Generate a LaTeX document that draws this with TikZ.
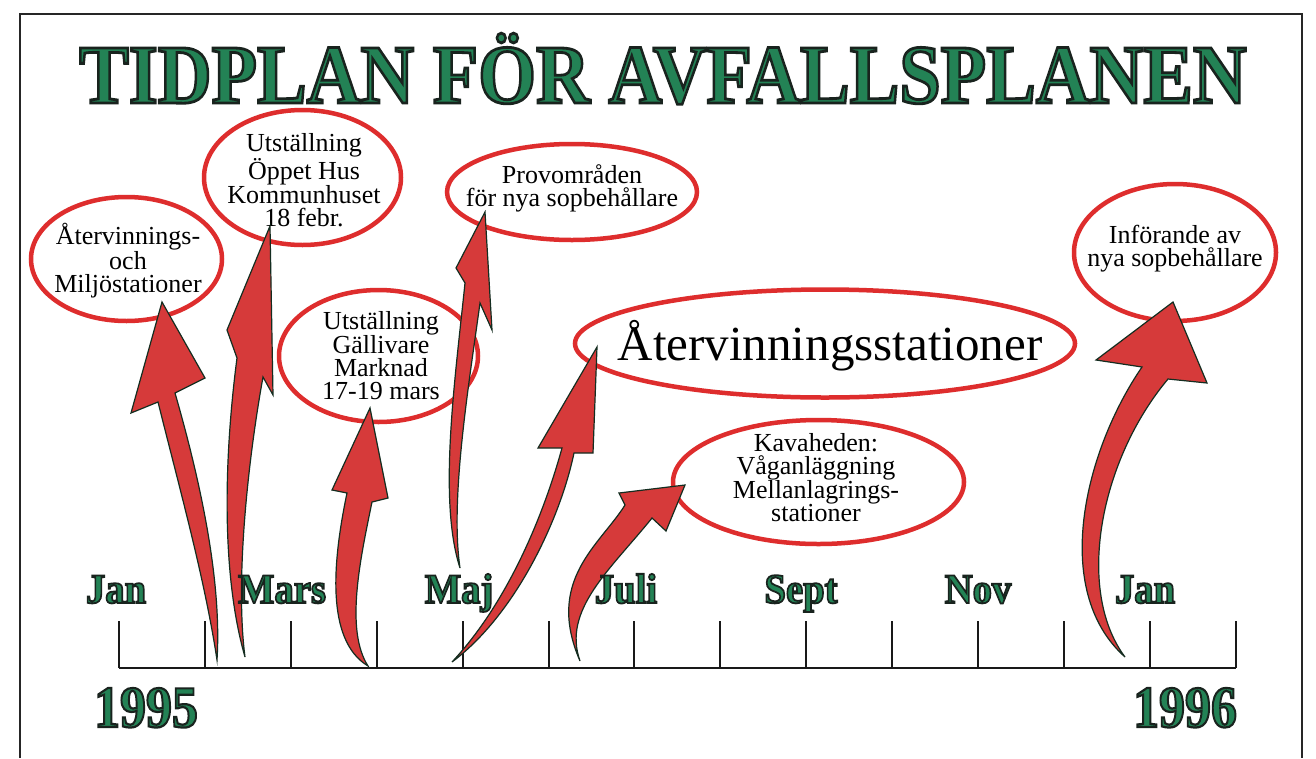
\documentclass[tikz,border=0pt]{standalone}
\usepackage{fontspec}
\setmainfont{Liberation Serif}
\usepackage{graphicx}
\usetikzlibrary{shapes.geometric}
\definecolor{tgreen}{RGB}{35,130,85}
\definecolor{tdark}{RGB}{25,35,30}
\definecolor{ered}{RGB}{222,45,45}
\definecolor{afill}{RGB}{214,58,58}
\definecolor{aline}{RGB}{20,45,32}
% green text with a dark outline (fill + stroke text render mode)
\newcommand{\grn}[3]{\scalebox{#1}[1]{{\color{tgreen}\special{pdf:literal direct 2 Tr #2 w 0.098 0.137 0.118 RG}#3\special{pdf:literal direct 0 Tr}}}}
\begin{document}
\begin{tikzpicture}[x=1pt,y=-1pt,
  bubble/.style={ellipse, draw=ered, line width=4.5pt, inner sep=0pt},
  btext/.style={align=center, inner sep=0pt, font=\fontsize{26}{23}\selectfont},
  arrowshape/.style={fill=afill, draw=aline, line width=1.2pt, line join=miter},
  month/.style={anchor=base, inner sep=0pt, font=\fontsize{42}{42}\selectfont\bfseries},
  yearlbl/.style={anchor=base, inner sep=0pt, font=\fontsize{59}{59}\selectfont\bfseries},
  axisline/.style={line width=2.5pt, draw=black!90},
  tickline/.style={line width=2pt, draw=black!90}]
\useasboundingbox (0,0) rectangle (1316,758);
\fill[white] (0,0) rectangle (1316,758);
% frame
\draw[line width=2pt, black!85] (20,758) -- (20,14) -- (1302,14) -- (1302,758);
% title
\node[anchor=base, inner sep=0pt, font=\fontsize{84}{84}\selectfont\bfseries] (title) at (663,103)
  {\grn{0.886}{2.8}{TIDPLAN FÖR AVFALLSPLANEN}};
% ellipses
\node[bubble, minimum width=191, minimum height=124] (e1) at (126.5,259) {};
\node[bubble, minimum width=197, minimum height=135] (e2) at (302.5,177.5) {};
\node[bubble, minimum width=199, minimum height=132] (e3) at (378.5,356) {};
\node[bubble, minimum width=250, minimum height=96] (e4) at (572,192) {};
\node[bubble, minimum width=500, minimum height=108] (e5) at (825,343.5) {};
\node[bubble, minimum width=291, minimum height=124] (e6) at (818.5,482) {};
\node[bubble, minimum width=202, minimum height=137] (e7) at (1175,252.5) {};
% ellipse texts
\node[btext] (t1) at (128,260.5) {Återvinnings-\\och\\Miljöstationer};
\node[btext] (t2) at (304,180.5) {Utställning\\Öppet Hus\\Kommunhuset\\18 febr.};
\node[btext] (t3) at (381,355.5) {Utställning\\Gällivare\\Marknad\\17-19 mars};
\node[btext] (t4) at (572,188.5) {Provområden\\för nya sopbehållare};
\node[anchor=base, inner sep=0pt, font=\fontsize{49}{49}\selectfont] (t5) at (830,360) {Återvinningsstationer};
\node[btext] (t6) at (816,477.5) {Kavaheden:\\Våganläggning\\Mellanlagrings-\\stationer};
\node[btext] (t7) at (1175,248.5) {Införande av\\nya sopbehållare};
% timeline
\coordinate (ax0) at (119,668);
\coordinate (ax1) at (1235.7,668);
\draw[axisline] (ax0) -- (ax1);
\foreach \i in {0,...,13} {
  \coordinate (tk\i) at (119+\i*85.9,668);
  \draw[tickline] (tk\i) -- ++(0,-47);
}
% arrows
\coordinate (aTail) at (217,660); \coordinate (aTip) at (162,302);
\path[arrowshape] (aTail) .. controls (205,580) and (180,490) .. (158,402) -- (131,413) -- (aTip)
  -- (205,378) -- (175,393) .. controls (200,480) and (222,580) .. (aTail) -- cycle;
\coordinate (bTail) at (245,657); \coordinate (bTip) at (270,226);
\path[arrowshape] (bTail) .. controls (220,570) and (225,450) .. (237,358) -- (227,330) -- (bTip)
  -- (273,395) -- (263,377) .. controls (248,460) and (235,580) .. (bTail) -- cycle;
\coordinate (cTail) at (368,666); \coordinate (cTip) at (370,408);
\path[arrowshape] (cTail) .. controls (325,640) and (333,560) .. (347,493) -- (332,490) -- (cTip)
  -- (388,498) -- (372,502) .. controls (360,560) and (345,630) .. (cTail) -- cycle;
\coordinate (dTail) at (460,568); \coordinate (dTip) at (485,212);
\path[arrowshape] (dTail) .. controls (438,500) and (455,380) .. (465,283) -- (456,268) -- (dTip)
  -- (492,330) -- (480,303) .. controls (468,390) and (450,500) .. (dTail) -- cycle;
\coordinate (eTail) at (452,662); \coordinate (eTip) at (597,347);
\path[arrowshape] (eTail) .. controls (510,600) and (545,510) .. (562,448) -- (538,448) -- (eTip)
  -- (593,453) -- (574,453) .. controls (560,520) and (515,615) .. (eTail) -- cycle;
\coordinate (fTail) at (580,661); \coordinate (fTip) at (685,485);
\path[arrowshape] (fTail) .. controls (545,580) and (600,545) .. (625,505) -- (619,493) -- (fTip)
  -- (666,531) -- (652,518) .. controls (610,570) and (562,610) .. (fTail) -- cycle;
\coordinate (gTail) at (1125,657); \coordinate (gTip) at (1173,302);
\path[arrowshape] (gTail) .. controls (1050,590) and (1085,450) .. (1142,367) -- (1096,360) -- (gTip)
  -- (1207,383) -- (1168,379) .. controls (1100,460) and (1075,590) .. (gTail) -- cycle;
% month labels
\node[month] (m1) at (116,603) {\grn{0.92}{1.8}{Jan}};
\node[month] (m3) at (282,603) {\grn{0.92}{1.8}{Mars}};
\node[month] (m5) at (459,603) {\grn{0.92}{1.8}{Maj}};
\node[month] (m7) at (626,603) {\grn{0.92}{1.8}{Juli}};
\node[month] (m9) at (801,603) {\grn{0.92}{1.8}{Sept}};
\node[month] (m11) at (978,603) {\grn{0.92}{1.8}{Nov}};
\node[month] (m13) at (1145,603) {\grn{0.92}{1.8}{Jan}};
% years
\node[yearlbl] (y1) at (146,727) {\grn{0.88}{2.2}{1995}};
\node[yearlbl] (y2) at (1185,727) {\grn{0.88}{2.2}{1996}};
\end{tikzpicture}
\end{document}
